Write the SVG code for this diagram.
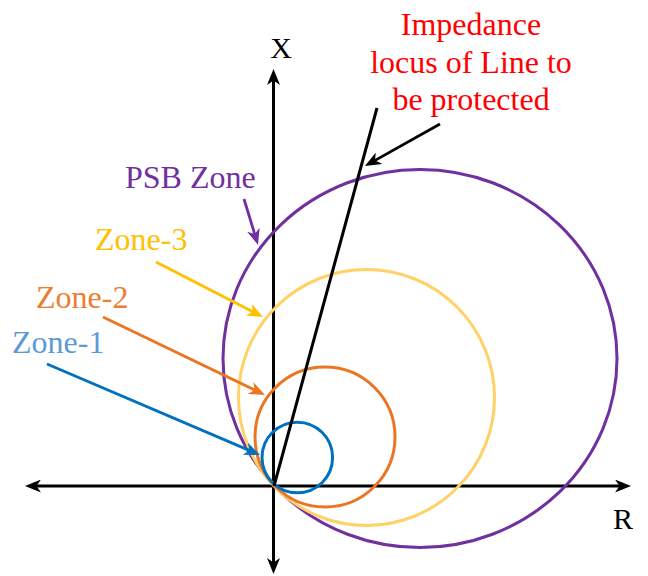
<svg xmlns="http://www.w3.org/2000/svg" width="648" height="576" viewBox="0 0 648 576">
<style>
text{font-family:"Liberation Serif","Times New Roman",serif;font-size:32px}
.ax{stroke:#000;stroke-width:3;fill:none}
.c{fill:none;stroke-width:3}
.ar{stroke-width:2.8;fill:none}
</style>
<defs>
<marker id="mk" markerUnits="userSpaceOnUse" markerWidth="16" markerHeight="13" refX="10" refY="6.5" orient="auto-start-reverse" viewBox="0 0 16 13"><path d="M0,0 L16,6.5 L0,13 L4.5,6.5 z" fill="#000"/></marker>
<marker id="mp" markerUnits="userSpaceOnUse" markerWidth="16" markerHeight="13" refX="10" refY="6.5" orient="auto" viewBox="0 0 16 13"><path d="M0,0 L16,6.5 L0,13 L4.5,6.5 z" fill="#7030A0"/></marker>
<marker id="m3" markerUnits="userSpaceOnUse" markerWidth="16" markerHeight="13" refX="10" refY="6.5" orient="auto" viewBox="0 0 16 13"><path d="M0,0 L16,6.5 L0,13 L4.5,6.5 z" fill="#FFC000"/></marker>
<marker id="m2" markerUnits="userSpaceOnUse" markerWidth="16" markerHeight="13" refX="10" refY="6.5" orient="auto" viewBox="0 0 16 13"><path d="M0,0 L16,6.5 L0,13 L4.5,6.5 z" fill="#EB7522"/></marker>
<marker id="m1" markerUnits="userSpaceOnUse" markerWidth="16" markerHeight="13" refX="10" refY="6.5" orient="auto" viewBox="0 0 16 13"><path d="M0,0 L16,6.5 L0,13 L4.5,6.5 z" fill="#0070C0"/></marker>
</defs>
<rect width="648" height="576" fill="#fff"/>
<g id="axes">
<line class="ax" x1="31" y1="486" x2="625" y2="486" marker-start="url(#mk)" marker-end="url(#mk)"/>
<line class="ax" x1="273.5" y1="75" x2="273.5" y2="568" marker-start="url(#mk)" marker-end="url(#mk)"/>
<text x="281" y="58" text-anchor="middle" style="font-size:30px">X</text>
<text x="623" y="529" text-anchor="middle" style="font-size:30px">R</text>
</g>
<g id="psb-zone">
<ellipse class="c" cx="420" cy="358.5" rx="197" ry="189" stroke="#7030A0"/>
<text x="125" y="188" fill="#7030A0">PSB Zone</text>
</g>
<g id="zone-3">
<circle class="c" cx="366.5" cy="397.5" r="128" stroke="#FFD166"/>
<text x="95" y="250" fill="#FFC000">Zone-3</text>
</g>
<g id="zone-2">
<circle class="c" cx="325" cy="437" r="70" stroke="#EB7522"/>
<text x="36" y="308" fill="#ED7D31">Zone-2</text>
</g>
<g id="zone-1">
<circle class="c" cx="297.3" cy="457.5" r="35.3" stroke="#0070C0"/>
<text x="12" y="353" fill="#5B9BD5">Zone-1</text>
</g>
<g id="impedance-locus">
<line x1="274" y1="486" x2="377" y2="108" stroke="#000" stroke-width="3"/>
<text fill="#FF0000" text-anchor="middle"><tspan x="471" y="35">Impedance</tspan><tspan x="471" y="72.5">locus of Line to</tspan><tspan x="471" y="110">be protected</tspan></text>
</g>
<g id="connectors">
<line class="ar" x1="244" y1="199" x2="256.3" y2="239.3" stroke="#7030A0" marker-end="url(#mp)"/>
<line class="ar" x1="156" y1="262" x2="257.7" y2="314.3" stroke="#FFC000" marker-end="url(#m3)"/>
<line class="ar" x1="103" y1="317" x2="259.6" y2="392.4" stroke="#EB7522" marker-end="url(#m2)"/>
<line class="ar" x1="47" y1="364" x2="254.5" y2="452.6" stroke="#0070C0" marker-end="url(#m1)"/>
<line class="ar" x1="440" y1="124" x2="370.2" y2="163.1" stroke="#000" marker-end="url(#mk)"/>
</g>
</svg>
